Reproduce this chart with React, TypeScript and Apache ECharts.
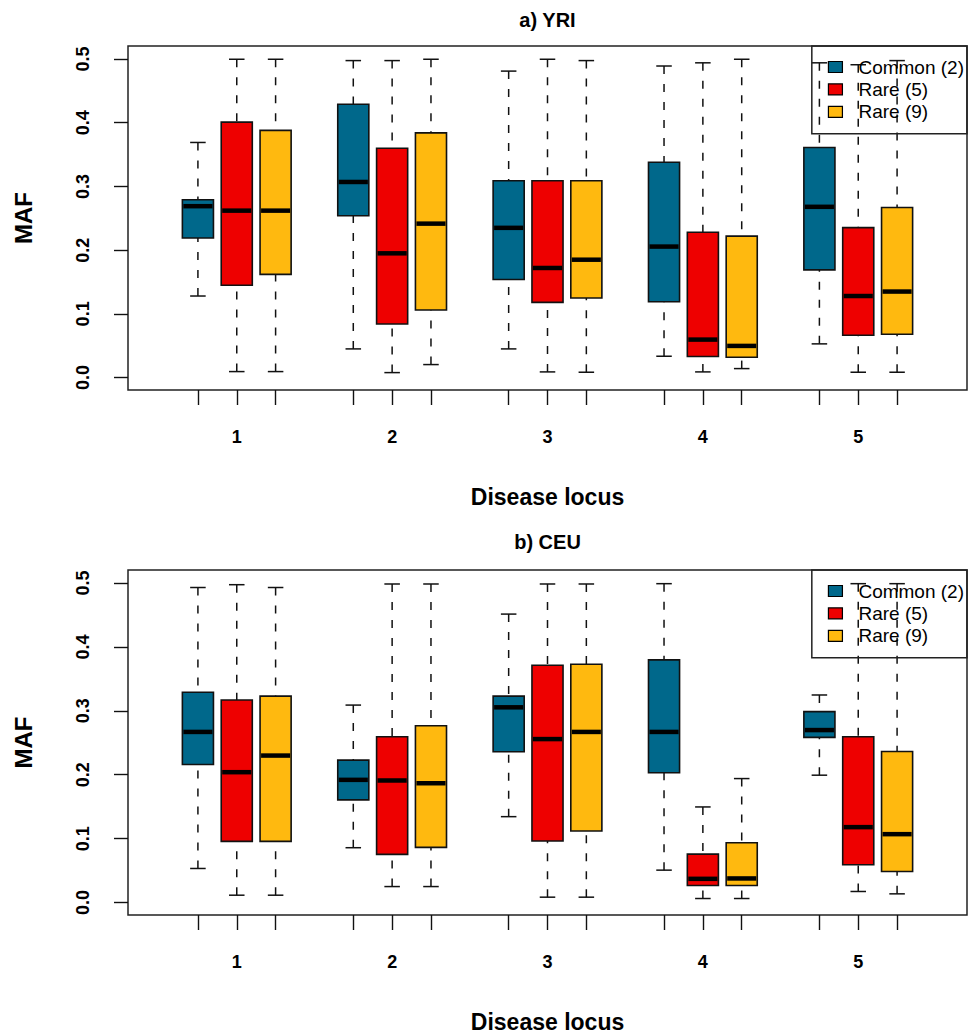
import React, { useEffect, useRef } from 'react';
import * as echarts from 'echarts';

// ---- data ----
const loci = ['1', '2', '3', '4', '5'];
const seriesNames = ['Common (2)', 'Rare (5)', 'Rare (9)'];
const seriesColors = ['#00688B', '#EE0000', '#FFB90F'];
const yTicks = [0, 0.1, 0.2, 0.3, 0.4, 0.5];
const panelTitles = ['a) YRI', 'b) CEU'];

// each row: [lower whisker, Q1, median, Q3, upper whisker], one row per locus
const yriCommon = [
  [0.128, 0.219, 0.269, 0.279, 0.369],
  [0.045, 0.254, 0.307, 0.429, 0.4975],
  [0.045, 0.154, 0.235, 0.309, 0.481],
  [0.0335, 0.119, 0.2056, 0.338, 0.489],
  [0.0529, 0.169, 0.268, 0.361, 0.494],
];
const yriRare5 = [
  [0.0094, 0.145, 0.262, 0.401, 0.4996],
  [0.0078, 0.084, 0.195, 0.36, 0.4975],
  [0.0089, 0.118, 0.172, 0.309, 0.4996],
  [0.0089, 0.033, 0.0596, 0.228, 0.494],
  [0.0084, 0.0665, 0.128, 0.2354, 0.491],
];
const yriRare9 = [
  [0.0094, 0.162, 0.262, 0.388, 0.4996],
  [0.0204, 0.106, 0.2416, 0.384, 0.4996],
  [0.0084, 0.125, 0.185, 0.309, 0.4975],
  [0.0141, 0.032, 0.0497, 0.222, 0.4996],
  [0.0084, 0.068, 0.135, 0.267, 0.4975],
];
const ceuCommon = [
  [0.0533, 0.216, 0.267, 0.329, 0.493],
  [0.0858, 0.1606, 0.192, 0.2228, 0.309],
  [0.1344, 0.2359, 0.3055, 0.323, 0.4514],
  [0.0507, 0.203, 0.267, 0.3797, 0.499],
  [0.1993, 0.2584, 0.2699, 0.2987, 0.3248],
];
const ceuRare5 = [
  [0.0115, 0.0957, 0.204, 0.317, 0.4974],
  [0.025, 0.0753, 0.191, 0.2594, 0.4985],
  [0.0084, 0.0962, 0.2558, 0.3714, 0.4985],
  [0.0063, 0.0267, 0.0371, 0.0758, 0.1496],
  [0.0173, 0.0591, 0.118, 0.2594, 0.499],
];
const ceuRare9 = [
  [0.0115, 0.0957, 0.23, 0.323, 0.493],
  [0.025, 0.0863, 0.1867, 0.2767, 0.4985],
  [0.0084, 0.112, 0.267, 0.373, 0.4985],
  [0.0063, 0.0267, 0.0377, 0.0936, 0.194],
  [0.0136, 0.0486, 0.107, 0.2364, 0.499],
];

const panelData = [
  [yriCommon, yriRare5, yriRare9],
  [ceuCommon, ceuRare5, ceuRare9],
];

// ---- layout ----
const FONT = '"Liberation Sans", Arial, Helvetica, sans-serif';
const GRID_LEFT = 128;
const GRID_WIDTH = 839;
const GRID_TOPS = [46, 570];
const GRID_HEIGHTS = [344, 345];
const TITLE_Y = [20, 542];
const X_MIN = -0.8;
const X_MAX = 20.8;
const Y_MIN = -0.0195;
const Y_MAX = 0.5204;

// position of box s of locus g along x: groups of 3 separated by one empty slot
const boxPos = (g: number, s: number) => g * 4 + s + 1;
const groupCenters = loci.map((_, g) => boxPos(g, 1));
const allBoxPositions: number[] = [];
loci.forEach((_, g) => seriesNames.forEach((__, s) => allBoxPositions.push(boxPos(g, s))));

const renderBox = (params: any, api: any) => {
  const x = api.value(0);
  const low = api.coord([x, api.value(1)]);
  const q1 = api.coord([x, api.value(2)]);
  const med = api.coord([x, api.value(3)]);
  const q3 = api.coord([x, api.value(4)]);
  const high = api.coord([x, api.value(5)]);
  const unit = api.size([1, 0])[0];
  const bw = unit * 0.8;
  const cx = low[0];
  const color = api.visual('color');
  const solid = { stroke: '#111', lineWidth: 1.5 };
  const dashed = { stroke: '#111', lineWidth: 1.5, lineDash: [8, 10] };
  return {
    type: 'group',
    children: [
      { type: 'line', shape: { x1: cx, y1: high[1], x2: cx, y2: q3[1] }, style: dashed },
      { type: 'line', shape: { x1: cx, y1: low[1], x2: cx, y2: q1[1] }, style: dashed },
      { type: 'line', shape: { x1: cx - bw / 4, y1: high[1], x2: cx + bw / 4, y2: high[1] }, style: solid },
      { type: 'line', shape: { x1: cx - bw / 4, y1: low[1], x2: cx + bw / 4, y2: low[1] }, style: solid },
      {
        type: 'rect',
        shape: { x: cx - bw / 2, y: q3[1], width: bw, height: q1[1] - q3[1] },
        style: { fill: color, stroke: '#111', lineWidth: 1.6 },
      },
      {
        type: 'line',
        shape: { x1: cx - bw / 2 + 1, y1: med[1], x2: cx + bw / 2 - 1, y2: med[1] },
        style: { stroke: '#000', lineWidth: 4.5 },
      },
    ],
  };
};

export default function App() {
  const ref = useRef<HTMLDivElement>(null);

  useEffect(() => {
    if (!ref.current) return;
    const chart = echarts.init(ref.current, null, { renderer: 'svg' });

    const grids = GRID_TOPS.map((top, i) => ({
      left: GRID_LEFT,
      top,
      width: GRID_WIDTH,
      height: GRID_HEIGHTS[i],
      show: true,
      borderColor: '#222',
      borderWidth: 1.5,
      backgroundColor: 'transparent',
      containLabel: false,
      outerBoundsMode: 'none',
    }));

    const xAxes = GRID_TOPS.map((_, i) => ({
      type: 'value',
      gridIndex: i,
      position: 'bottom',
      min: X_MIN,
      max: X_MAX,
      axisLine: { show: false, onZero: false },
      splitLine: { show: false },
      axisTick: {
        show: true,
        customValues: allBoxPositions,
        length: 15,
        lineStyle: { color: '#111', width: 1.4 },
      },
      axisLabel: {
        show: true,
        customValues: groupCenters,
        formatter: (v: number) => loci[Math.round((v - 2) / 4)] ?? '',
        margin: 38,
        fontSize: 18,
        fontWeight: 'bold',
        color: '#000',
        fontFamily: FONT,
      },
      name: 'Disease locus',
      nameLocation: 'middle',
      nameGap: 95,
      nameTextStyle: { fontSize: 23, fontWeight: 'bold', color: '#000', fontFamily: FONT },
    }));

    const yAxes = GRID_TOPS.map((_, i) => ({
      type: 'value',
      gridIndex: i,
      position: 'left',
      min: Y_MIN,
      max: Y_MAX,
      axisLine: { show: false, onZero: false },
      splitLine: { show: false },
      axisTick: {
        show: true,
        customValues: yTicks,
        length: 14,
        lineStyle: { color: '#111', width: 1.4 },
      },
      axisLabel: {
        show: true,
        customValues: yTicks,
        formatter: (v: number) => v.toFixed(1),
        rotate: 90,
        margin: 36,
        fontSize: 18,
        fontWeight: 'bold',
        color: '#000',
        fontFamily: FONT,
      },
      name: 'MAF',
      nameLocation: 'middle',
      nameRotate: 90,
      nameGap: 93,
      nameTextStyle: { fontSize: 24, fontWeight: 'bold', color: '#000', fontFamily: FONT },
    }));

    const series: any[] = [];
    panelData.forEach((sets, p) => {
      sets.forEach((rows, s) => {
        series.push({
          type: 'custom',
          name: seriesNames[s],
          xAxisIndex: p,
          yAxisIndex: p,
          itemStyle: { color: seriesColors[s] },
          renderItem: renderBox,
          encode: { x: 0, y: [1, 2, 3, 4, 5] },
          data: rows.map((r, g) => [boxPos(g, s), ...r]),
          z: 2,
        });
      });
    });

    const legends = GRID_TOPS.map((top) => ({
      show: true,
      orient: 'vertical',
      right: 1,
      top,
      data: seriesNames,
      selectedMode: false,
      icon: 'rect',
      itemWidth: 14,
      itemHeight: 11,
      itemGap: 2.4,
      padding: [11, 3, 12, 16],
      borderColor: '#222',
      borderWidth: 1.5,
      backgroundColor: 'transparent',
      itemStyle: { borderColor: '#000', borderWidth: 1.2 },
      textStyle: {
        fontSize: 19,
        color: '#000',
        fontFamily: FONT,
        lineHeight: 20,
        padding: [0, 0, 0, 11],
      },
    }));

    chart.setOption({
      animation: false,
      backgroundColor: '#fff',
      grid: grids,
      xAxis: xAxes,
      yAxis: yAxes,
      legend: legends,
      series,
      graphic: panelTitles.map((t, i) => ({
        type: 'text',
        x: GRID_LEFT + GRID_WIDTH / 2,
        y: TITLE_Y[i],
        style: {
          text: t,
          fill: '#000',
          font: `bold 20px ${FONT}`,
          textAlign: 'center',
          textVerticalAlign: 'middle',
        },
      })),
    });

    return () => chart.dispose();
  }, []);

  return (
    <div
      ref={ref}
      style={{ position: 'absolute', left: 0, top: 0, width: 968, height: 1034, background: '#fff' }}
    />
  );
}
